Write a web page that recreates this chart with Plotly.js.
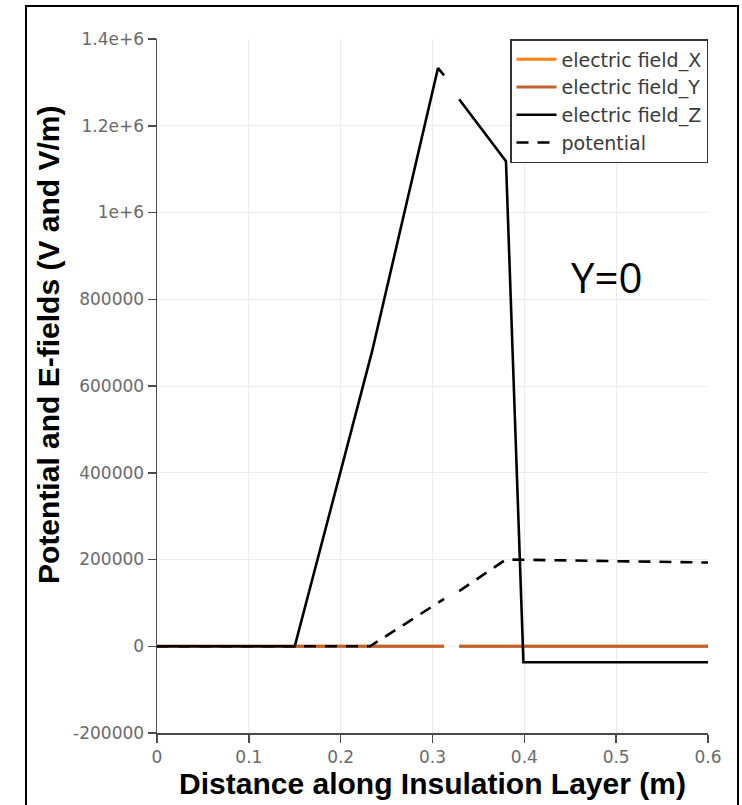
<!DOCTYPE html>
<html>
<head>
<meta charset="utf-8">
<script src="https://cdn.plot.ly/plotly-3.0.1.min.js"></script>
<style>
  html, body { margin: 0; padding: 0; background: #ffffff; }
  #frame { position: absolute; left: 25px; top: 5px; width: 714px; height: 820px; border: 2px solid #000; box-sizing: border-box; }
  #chart { position: absolute; left: 0; top: 0; width: 742px; height: 805px; }
</style>
</head>
<body>
<div id="frame"></div>
<div id="chart"></div>
<script>
const exX = [0, 0.3126, 0.3127, 0.329, 0.6];
const exY = [0, 0, null, 0, 0];

const eyX = [0, 0.3126, 0.3127, 0.329, 0.6];
const eyY = [0, 0, null, 0, 0];

const ezX = [0, 0.15, 0.234, 0.306, 0.3126, 0.3127, 0.329, 0.380, 0.399, 0.6];
const ezY = [0, 0, 678000, 1333000, 1316000, null, 1261000, 1118000, -37000, -37000];

const potX = [0, 0.232, 0.3126, 0.3127, 0.329, 0.380, 0.6];
const potY = [0, 0, 109000, null, 127000, 200000, 193000];

const seriesNames = ['electric field_X', 'electric field_Y', 'electric field_Z', 'potential'];
const xTicks = [0, 0.1, 0.2, 0.3, 0.4, 0.5, 0.6];
const xTickText = ['0', '0.1', '0.2', '0.3', '0.4', '0.5', '0.6'];
const yTicks = [-200000, 0, 200000, 400000, 600000, 800000, 1000000, 1200000, 1400000];
const yTickText = ['-200000', '0', '200000', '400000', '600000', '800000', '1e+6', '1.2e+6', '1.4e+6'];

const traces = [
  { x: exX, y: exY, name: seriesNames[0], legendgroup: 'a', mode: 'lines', connectgaps: false,
    line: { color: '#ff8214', width: 3 } },
  { x: eyX, y: eyY, name: seriesNames[1], legendgroup: 'b', mode: 'lines', connectgaps: false,
    line: { color: '#c0622f', width: 3 } },
  { x: ezX, y: ezY, name: seriesNames[2], legendgroup: 'c', mode: 'lines', connectgaps: false,
    line: { color: '#000000', width: 2.6 } },
  { x: potX, y: potY, name: seriesNames[3], legendgroup: 'd', mode: 'lines', connectgaps: false,
    line: { color: '#000000', width: 2.6, dash: '12px,9px' } }
];

const tickFont = { family: 'DejaVu Sans, sans-serif', size: 17, color: '#6a6a6a' };
const titleFont = { family: 'Liberation Sans, Arial, sans-serif', size: 30, color: '#000000', weight: 'bold' };

const layout = {
  width: 742, height: 805,
  margin: { l: 157, r: 34, t: 39, b: 72 },
  paper_bgcolor: 'rgba(0,0,0,0)',
  plot_bgcolor: '#ffffff',
  showlegend: true,
  xaxis: {
    range: [0, 0.6], tickvals: xTicks, ticktext: xTickText,
    showgrid: true, gridcolor: '#ececec', gridwidth: 1,
    zeroline: false, showline: true, linecolor: '#4a4a4a', linewidth: 1.5,
    ticks: 'outside', ticklen: 8, tickcolor: '#4a4a4a', tickwidth: 1.5,
    tickfont: tickFont,
    title: { text: 'Distance along Insulation Layer (m)', font: titleFont, standoff: 2 }
  },
  yaxis: {
    range: [-200000, 1400000], tickvals: yTicks, ticktext: yTickText,
    showgrid: true, gridcolor: '#ececec', gridwidth: 1,
    zeroline: false, showline: true, linecolor: '#4a4a4a', linewidth: 1.5,
    ticks: 'outside', ticklen: 8, tickcolor: '#4a4a4a', tickwidth: 1.5,
    tickfont: tickFont
  },
  legend: {
    x: 1, xanchor: 'right', y: 1.0, yanchor: 'top',
    bgcolor: '#ffffff', bordercolor: '#333333', borderwidth: 1.5,
    font: { family: 'DejaVu Sans, sans-serif', size: 19, color: '#3a3a3a' },
    traceorder: 'grouped', tracegroupgap: 0, itemwidth: 40
  },
  annotations: [
    { xref: 'paper', yref: 'paper', x: -0.198, y: 0.559, xanchor: 'center', yanchor: 'middle',
      textangle: -90, text: 'Potential and E-fields (V and V/m)', showarrow: false, font: titleFont },
    { x: 0.49, y: 853000, xref: 'x', yref: 'y', text: 'Y=0', showarrow: false,
      font: { family: 'Open Sans, sans-serif', size: 42, color: '#000000' } }
  ]
};

Plotly.newPlot('chart', traces, layout, { displayModeBar: false, staticPlot: true });
</script>
</body>
</html>
